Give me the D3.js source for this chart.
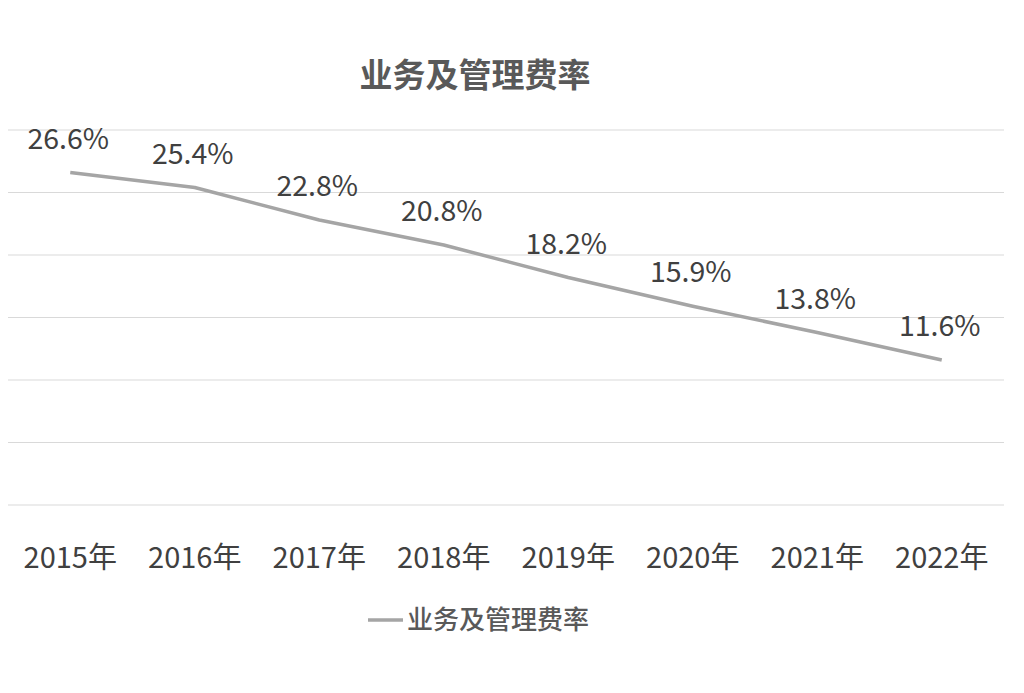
<!DOCTYPE html>
<html><head><meta charset="utf-8">
<script src="https://cdn.jsdelivr.net/npm/d3@7"></script>
<style>body{margin:0;background:#fff;} svg{display:block;}</style>
</head><body>
<script>
const years = ["2015年","2016年","2017年","2018年","2019年","2020年","2021年","2022年"];
const rates = [26.6, 25.4, 22.8, 20.8, 18.2, 15.9, 13.8, 11.6];
const yTicks = [0, 5, 10, 15, 20, 25, 30];
const title = "业务及管理费率";
const seriesName = "业务及管理费率";

const W = 1024, H = 693;
const font = "'Noto Sans CJK SC', 'Noto Sans', sans-serif";
const svg = d3.select("body").append("svg").attr("width", W).attr("height", H);

const x = d3.scaleBand().domain(years).range([8, 1004]);
const y = d3.scaleLinear().domain([0, 30]).range([505, 130]);

svg.append("g").selectAll("line").data(yTicks).join("line")
  .attr("x1", 8).attr("x2", 1004)
  .attr("y1", d => y(d)).attr("y2", d => y(d))
  .attr("stroke", "#d9d9d9").attr("stroke-width", 1);

svg.append("text").attr("x", 475).attr("y", 87).attr("text-anchor", "middle")
  .attr("font-family", font).attr("font-weight", "bold").attr("font-size", 33)
  .attr("fill", "#595959").text(title);

const cx = d => x(d) + x.bandwidth() / 2;
const line = d3.line().x((d, i) => cx(years[i])).y(d => y(d));
svg.append("path").datum(rates).attr("d", line)
  .attr("fill", "none").attr("stroke", "#a5a5a5").attr("stroke-width", 3.5)
  .attr("stroke-linejoin", "round");

svg.append("g").selectAll("text").data(rates).join("text")
  .attr("x", (d, i) => cx(years[i]) - 2)
  .attr("y", d => y(d) - 24)
  .attr("text-anchor", "middle")
  .attr("font-family", font).attr("font-size", 28.5).attr("fill", "#404040")
  .text(d => d.toFixed(1) + "%");

const xAxis = d3.axisBottom(x).tickSize(0).tickPadding(0);
const gx = svg.append("g").attr("transform", "translate(0,505)").call(xAxis);
gx.select(".domain").remove();
gx.selectAll("text").attr("font-family", font).attr("font-size", 29)
  .attr("fill", "#404040").attr("dy", "0").attr("y", 63);

const lg = svg.append("g");
lg.append("line").attr("x1", 368).attr("x2", 403).attr("y1", 620).attr("y2", 620)
  .attr("stroke", "#a5a5a5").attr("stroke-width", 3.5);
lg.append("text").attr("x", 407).attr("y", 629).attr("font-family", font)
  .attr("font-size", 26).attr("font-weight", 500).attr("fill", "#595959").text(seriesName);
</script>
</body></html>
